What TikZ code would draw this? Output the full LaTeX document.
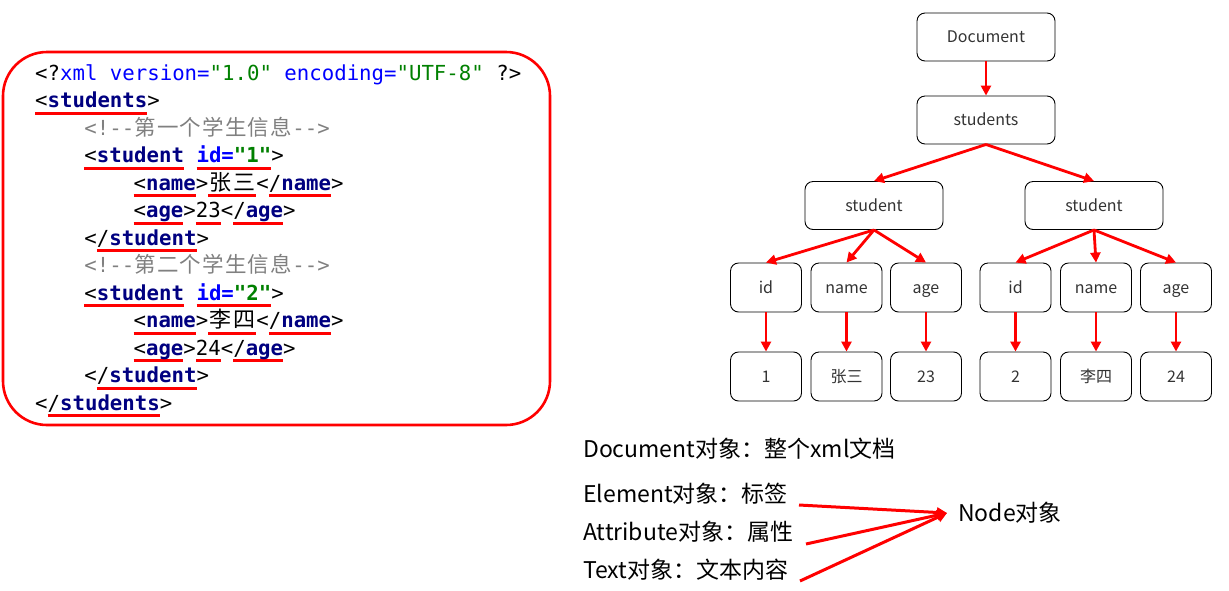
\documentclass[tikz,border=0pt]{standalone}
\usepackage{fontspec}
\setmainfont{Noto Sans CJK SC}
\setmonofont{DejaVu Sans Mono}
\newfontfamily\cjkf{Noto Sans CJK SC}
\usetikzlibrary{arrows.meta}
\definecolor{tagc}{HTML}{000080}
\definecolor{attc}{HTML}{0000FF}
\definecolor{valc}{HTML}{008000}
\definecolor{cmtc}{HTML}{808080}
\definecolor{boxtxt}{HTML}{333333}
\newsavebox\rubox
\newcommand\ru[1]{\sbox\rubox{#1}\rlap{\textcolor{red}{\rule[-7pt]{\wd\rubox}{2.6pt}}}\usebox\rubox}
\newcommand\tg[1]{\textcolor{tagc}{\bfseries #1}}
\newcommand\ac[1]{\textcolor{attc}{#1}}
\newcommand\vc[1]{\textcolor{valc}{#1}}
\newcommand\ab[1]{\textcolor{attc}{\bfseries #1}}
\newcommand\vb[1]{\textcolor{valc}{\bfseries #1}}
\newcommand\cc[1]{\makebox[24pt]{\cjkf\fontsize{22}{24}\selectfont #1}}
\newcommand\cm[1]{\makebox[22.6pt]{\cjkf\fontsize{21.5}{24}\selectfont #1}}
\tikzset{
  code/.style={inner sep=0pt, anchor=base west, font=\ttfamily\fontsize{20.7}{24}\selectfont},
  tbox/.style={draw=black, line width=0.9pt, rounded corners=8pt, inner sep=0pt,
    text=boxtxt, font=\fontsize{16}{18}\selectfont, text height=12pt, text depth=0.5pt},
  big/.style={tbox, minimum width=138pt, minimum height=48pt},
  small/.style={tbox, minimum width=71pt, minimum height=49pt},
  arr/.style={red, line width=2.8pt, -{Triangle[length=10pt,width=10pt]}},
  note/.style={inner sep=0pt, anchor=base west, font=\fontsize{23}{26}\selectfont},
}
\begin{document}
\begin{tikzpicture}[x=1pt,y=-1pt]
\useasboundingbox (0,0) rectangle (1229,590);
% code panel
\draw[red, line width=2.6pt, rounded corners=44pt] (3,52) rectangle (550,425);
\node[code] (l0) at (35,80) {<?\ac{xml version=}\vc{"1.0"} \ac{encoding=}\vc{"UTF-8"} ?>};
\node[code] (l1) at (35,107.5) {\ru{<\tg{students}}>};
\node[code] (l2) at (84.2,135) {\textcolor{cmtc}{<!-{}-\cm{第}\cm{一}\cm{个}\cm{学}\cm{生}\cm{信}\cm{息}-{}->}};
\node[code] (l3) at (84.2,162.5) {\ru{<\tg{student}} \ru{\ab{id=}}\ru{\vb{"1"}}>};
\node[code] (l4) at (133.4,190) {\ru{<\tg{name}}>\ru{\cc{张}\cc{三}}<\ru{/\tg{name}}>};
\node[code] (l5) at (133.4,217.5) {\ru{<\tg{age}}>\ru{23}<\ru{/\tg{age}}>};
\node[code] (l6) at (84.2,245) {<\ru{/\tg{student}}>};
\node[code] (l7) at (84.2,272.5) {\textcolor{cmtc}{<!-{}-\cm{第}\cm{二}\cm{个}\cm{学}\cm{生}\cm{信}\cm{息}-{}->}};
\node[code] (l8) at (84.2,300) {\ru{<\tg{student}} \ru{\ab{id=}}\ru{\vb{"2"}}>};
\node[code] (l9) at (133.4,327.5) {\ru{<\tg{name}}>\ru{\cc{李}\cc{四}}<\ru{/\tg{name}}>};
\node[code] (l10) at (133.4,355) {\ru{<\tg{age}}>\ru{24}<\ru{/\tg{age}}>};
\node[code] (l11) at (84.2,382.5) {<\ru{/\tg{student}}>};
\node[code] (l12) at (35,410) {<\ru{/\tg{students}}>};
% tree
\node[big] (doc) at (986,37) {Document};
\node[big] (sts) at (986,120) {students};
\node[big] (s1) at (874,205.5) {student};
\node[big] (s2) at (1094,205.5) {student};
\node[small] (id1) at (766,287.5) {id};
\node[small] (nm1) at (846.5,287.5) {name};
\node[small] (ag1) at (926,287.5) {age};
\node[small] (id2) at (1015.5,287.5) {id};
\node[small] (nm2) at (1096,287.5) {name};
\node[small] (ag2) at (1176,287.5) {age};
\node[small] (v1) at (766,376.5) {1};
\node[small] (v2) at (846.5,376.5) {张三};
\node[small] (v3) at (926,376.5) {23};
\node[small] (v4) at (1015.5,376.5) {2};
\node[small] (v5) at (1096,376.5) {李四};
\node[small] (v6) at (1176,376.5) {24};
\draw[arr] (doc.south) -- (sts.north);
\draw[arr] (sts.south) -- (s1.north);
\draw[arr] (sts.south) -- (s2.north);
\draw[arr] (s1.south) -- (id1.north);
\draw[arr] (s1.south) -- (nm1.north);
\draw[arr] (s1.south) -- (ag1.north);
\draw[arr] (s2.south) -- (id2.north);
\draw[arr] (s2.south) -- (nm2.north);
\draw[arr] (s2.south) -- (ag2.north);
\draw[arr] (id1.south) -- (v1.north);
\draw[arr] (nm1.south) -- (v2.north);
\draw[arr] (ag1.south) -- (v3.north);
\draw[arr] (id2.south) -- (v4.north);
\draw[arr] (nm2.south) -- (v5.north);
\draw[arr] (ag2.south) -- (v6.north);
% notes
\node[note] (t0) at (583,457) {Document对象：整个xml文档};
\node[note] (t1) at (583,502) {Element对象：标签};
\node[note] (t2) at (583,540) {Attribute对象：属性};
\node[note] (t3) at (583,578) {Text对象：文本内容};
\node[note, anchor=west, inner xsep=11pt] (nd) at (947,513) {Node对象};
\coordinate (e1) at (799,505);
\coordinate (e2) at (806,544);
\coordinate (e3) at (800,581);
\draw[arr, line width=3pt] (e1) -- (nd.west);
\draw[arr, line width=3pt] (e2) -- (nd.west);
\draw[arr, line width=3pt] (e3) -- (nd.west);
\end{tikzpicture}
\end{document}
